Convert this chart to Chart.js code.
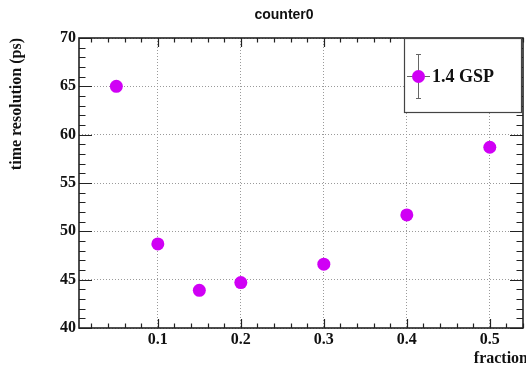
<!DOCTYPE html>
<html>
<head>
<meta charset="utf-8">
<script src="https://cdn.jsdelivr.net/npm/chart.js@4/dist/chart.umd.min.js"></script>
<style>
  html, body { margin: 0; padding: 0; background: #fff; }
  canvas { display: block; }
</style>
</head>
<body>
<canvas id="c" width="526" height="369"></canvas>
<script>
// Time resolution of counter0 versus the CFD fraction
const fractions  = [0.05, 0.10, 0.15, 0.20, 0.30, 0.40, 0.50];
const resolution = [65.0, 48.7, 43.9, 44.7, 46.6, 51.7, 58.7];

const xTickValues = [0.1, 0.2, 0.3, 0.4, 0.5];
const yTickValues = [40, 45, 50, 55, 60, 65, 70];
const xMinorStep = 0.02;
const yMinorStep = 1;

const seriesLabel = '1.4 GSP';
const chartTitle = 'counter0';
const xTitle = 'fraction';

const markerColor = 'rgb(208,0,245)';
const serif = '"Liberation Serif", "DejaVu Serif", serif';
const sans = '"Liberation Sans", Arial, sans-serif';

// ROOT-like frame: inward ticks on all four sides, titles and legend box
const frameTicks = {
  id: 'frameTicks',
  afterDraw(chart) {
    const { ctx, chartArea: a, scales: { x, y } } = chart;
    ctx.save();
    ctx.strokeStyle = '#222';
    ctx.lineWidth = 1.2;
    ctx.beginPath();
    const yMajor = 13, yMinor = 6.5, xMajor = 9, xMinor = 4.5;
    for (let v = y.min; v <= y.max + 1e-9; v += yMinorStep) {
      const py = Math.round(y.getPixelForValue(v)) + 0.5;
      const len = yTickValues.some(t => Math.abs(t - v) < 1e-9) ? yMajor : yMinor;
      ctx.moveTo(a.left, py); ctx.lineTo(a.left + len, py);
      ctx.moveTo(a.right, py); ctx.lineTo(a.right - len, py);
    }
    const start = Math.ceil(x.min / xMinorStep) * xMinorStep;
    for (let v = start; v <= x.max + 1e-9; v += xMinorStep) {
      const px = Math.round(x.getPixelForValue(v)) + 0.5;
      const len = xTickValues.some(t => Math.abs(t - v) < 1e-6) ? xMajor : xMinor;
      ctx.moveTo(px, a.bottom); ctx.lineTo(px, a.bottom - len);
      ctx.moveTo(px, a.top); ctx.lineTo(px, a.top + len);
    }
    ctx.stroke();

    // frame
    ctx.lineWidth = 1.6;
    ctx.strokeStyle = '#222';
    ctx.strokeRect(a.left, a.top, a.right - a.left, a.bottom - a.top);

    // title
    ctx.fillStyle = '#111';
    ctx.font = 'bold 14px ' + sans;
    ctx.textAlign = 'center';
    ctx.textBaseline = 'middle';
    ctx.fillText(chartTitle, 284, 15);

    // x axis title, right-aligned past the frame end
    ctx.font = 'bold 16px ' + serif;
    ctx.textAlign = 'right';
    ctx.fillText(xTitle, a.right + 5, 359);

    // legend box
    const bx = 404, by = a.top, bw = a.right - 2 - bx, bh = 74;
    ctx.fillStyle = '#fff';
    ctx.fillRect(bx, by, bw, bh);
    ctx.lineWidth = 1.2;
    ctx.strokeStyle = '#444';
    ctx.strokeRect(bx + 0.5, by + 0.5, bw, bh);
    const mx = 418, my = by + 38;
    ctx.strokeStyle = '#666';
    ctx.lineWidth = 1;
    ctx.beginPath();
    ctx.moveTo(mx + 0.5, my - 22); ctx.lineTo(mx + 0.5, my + 22);
    ctx.moveTo(mx - 2, my - 22 + 0.5); ctx.lineTo(mx + 3, my - 22 + 0.5);
    ctx.moveTo(mx - 2, my + 22 + 0.5); ctx.lineTo(mx + 3, my + 22 + 0.5);
    ctx.moveTo(mx - 11, my + 0.5); ctx.lineTo(mx + 12, my + 0.5);
    ctx.stroke();
    ctx.fillStyle = markerColor;
    ctx.beginPath();
    ctx.arc(mx + 0.5, my + 0.5, 6.5, 0, Math.PI * 2);
    ctx.fill();
    ctx.fillStyle = '#111';
    ctx.font = 'bold 18px ' + serif;
    ctx.textAlign = 'left';
    ctx.fillText(seriesLabel, 432, my + 1);
    ctx.restore();
  }
};

new Chart(document.getElementById('c'), {
  type: 'scatter',
  data: {
    datasets: [{
      label: seriesLabel,
      data: fractions.map((f, i) => ({ x: f, y: resolution[i] })),
      backgroundColor: markerColor,
      borderWidth: 0,
      pointRadius: 6.5,
      pointHoverRadius: 6.5
    }]
  },
  options: {
    responsive: false,
    animation: false,
    events: [],
    layout: { autoPadding: false, padding: { top: 38, right: 3, left: 0, bottom: 0 } },
    plugins: { legend: { display: false }, tooltip: { enabled: false }, title: { display: false } },
    scales: {
      x: {
        type: 'linear',
        min: 0.005,
        max: 0.54,
        afterBuildTicks: s => { s.ticks = xTickValues.map(v => ({ value: v })); },
        afterFit: s => { s.height = 41; },
        ticks: {
          font: { family: serif, size: 16, weight: 'bold' },
          color: '#111',
          padding: 2,
          maxRotation: 0,
          callback: v => v.toFixed(1)
        },
        grid: { color: '#9a9a9a', lineWidth: 1, drawTicks: false },
        border: { display: false, dash: [1, 2] },
        title: { display: false }
      },
      y: {
        type: 'linear',
        min: 40,
        max: 70,
        afterBuildTicks: s => { s.ticks = yTickValues.map(v => ({ value: v })); },
        afterFit: s => { s.width = 79; },
        ticks: {
          font: { family: serif, size: 16, weight: 'bold' },
          color: '#111',
          padding: 3
        },
        grid: { color: '#9a9a9a', lineWidth: 1, drawTicks: false },
        border: { display: false, dash: [1, 2] },
        title: {
          display: true,
          text: 'time resolution (ps)',
          align: 'end',
          color: '#111',
          font: { family: serif, size: 16, weight: 'bold' },
          padding: { top: 7, bottom: 0 }
        }
      }
    }
  },
  plugins: [frameTicks]
});
</script>
</body>
</html>
